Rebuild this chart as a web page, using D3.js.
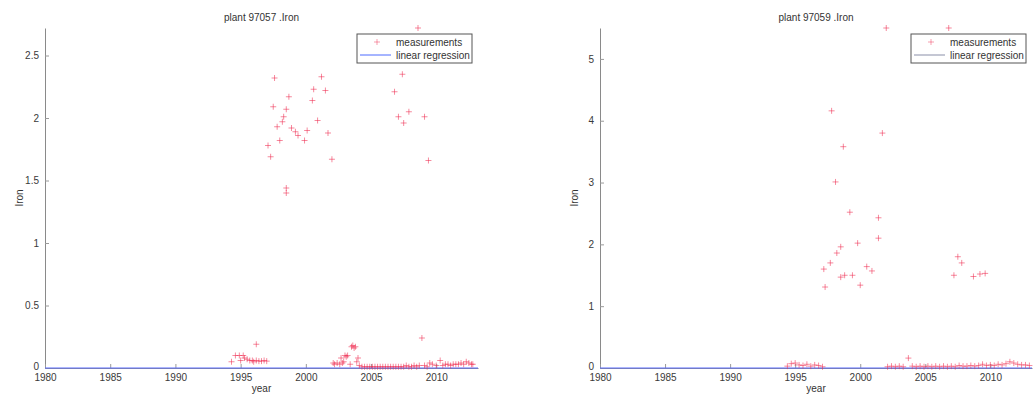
<!DOCTYPE html>
<html>
<head>
<meta charset="utf-8">
<script src="https://cdn.jsdelivr.net/npm/d3@7"></script>
<style>
  body { margin: 0; background: #fff; }
  svg text { font-family: "Liberation Sans", Arial, sans-serif; }
</style>
</head>
<body>
<svg id="chart" width="1035" height="398"></svg>
<script>
// ---------- DATA ----------
const titles = ["plant 97057 .Iron", "plant 97059 .Iron"];
const yTicksA = [0, 0.5, 1, 1.5, 2, 2.5];
const yTicksB = [0, 1, 2, 3, 4, 5];
const xTicks = [1980, 1985, 1990, 1995, 2000, 2005, 2010];
const xDomain = [1980, 2013.2];
const yMaxA = 2.72;
const yMaxB = 5.5;

// plant 97057 measurements (year, iron)
const yearsA = [
  1997.6, 1997.5, 1998.7, 1998.5, 1998.3, 1998.2, 1997.8, 1997.1, 1997.3, 1998.0,
  1998.9, 1999.2, 1999.4, 1999.9, 2000.1, 2000.5, 2000.6, 2001.2, 2001.5, 2000.9,
  2001.7, 2002.0, 1998.5, 1998.5,
  2008.6, 2007.4, 2006.8, 2007.1, 2007.9, 2007.5, 2009.1, 2009.4,
  1994.3, 1994.6, 1994.9, 1995.0, 1995.2, 1995.3, 1995.5, 1995.7, 1995.9, 1996.0,
  1996.2, 1996.2, 1996.4, 1996.6, 1996.8, 1997.0,
  2002.1, 2002.2, 2002.4, 2002.6, 2002.7, 2002.8, 2002.9, 2003.0, 2003.1, 2003.2,
  2003.4, 2003.5, 2003.6, 2003.7, 2003.8, 2003.9, 2004.0, 2004.1, 2004.3, 2004.5,
  2004.7, 2004.9, 2005.1, 2005.3, 2005.5, 2005.7, 2005.9, 2006.1, 2006.3, 2006.5,
  2006.7, 2006.9, 2007.1, 2007.3, 2007.5, 2007.7, 2007.9, 2008.1, 2008.3, 2008.5,
  2008.7, 2008.9, 2009.1, 2009.3, 2009.5, 2009.7, 2010.0, 2010.3, 2010.5, 2010.7,
  2010.9, 2011.1, 2011.3, 2011.5, 2011.7, 2011.9, 2012.1, 2012.3, 2012.5, 2012.7, 2012.8
];
const ironA = [
  2.32, 2.09, 2.17, 2.07, 2.01, 1.97, 1.93, 1.78, 1.69, 1.82,
  1.92, 1.89, 1.86, 1.82, 1.90, 2.14, 2.23, 2.33, 2.22, 1.98,
  1.88, 1.67, 1.44, 1.40,
  2.72, 2.35, 2.21, 2.01, 2.05, 1.96, 2.01, 1.66,
  0.05, 0.10, 0.10, 0.06, 0.10, 0.08, 0.07, 0.06, 0.06, 0.05,
  0.19, 0.06, 0.055, 0.055, 0.06, 0.055,
  0.04, 0.03, 0.04, 0.03, 0.08, 0.04, 0.05, 0.10, 0.09, 0.10,
  0.03, 0.17, 0.18, 0.16, 0.17, 0.05, 0.08, 0.02, 0.01, 0.01,
  0.01, 0.01, 0.01, 0.01, 0.01, 0.01, 0.01, 0.01, 0.01, 0.01,
  0.01, 0.01, 0.01, 0.01, 0.01, 0.02, 0.01, 0.01, 0.02, 0.01,
  0.02, 0.24, 0.02, 0.01, 0.04, 0.03, 0.02, 0.06, 0.02, 0.03,
  0.03, 0.02, 0.03, 0.03, 0.03, 0.04, 0.03, 0.05, 0.04, 0.03, 0.03
];

// plant 97059 measurements (year, iron)
const yearsB = [
  2002.0, 2006.8, 1997.8, 2001.7, 1998.7, 1998.1,
  1999.2, 2001.4, 2001.4, 1999.8, 1998.5, 1998.2, 1997.7, 1997.2, 1997.3, 1998.5,
  1998.8, 1999.4, 2000.0, 2000.5, 2000.9, 2007.2, 2007.5, 2007.8, 2008.7, 2009.2, 2009.6,
  1994.4, 1994.7, 1995.0, 1995.3, 1995.6, 1995.9, 1996.2, 1996.5, 1996.8, 1997.1,
  2002.1, 2002.4, 2002.7, 2003.0, 2003.3, 2003.7, 2004.0, 2004.3, 2004.6, 2004.9,
  2005.2, 2005.5, 2005.8, 2006.1, 2006.4, 2006.7, 2007.0, 2007.3, 2007.6, 2007.9,
  2008.2, 2008.5, 2008.8, 2009.1, 2009.4, 2009.7, 2010.0, 2010.3, 2010.6, 2010.9,
  2011.2, 2011.5, 2011.8, 2012.1, 2012.4, 2012.7, 2013.0
];
const ironB = [
  5.50, 5.50, 4.16, 3.80, 3.58, 3.01,
  2.52, 2.43, 2.10, 2.02, 1.96, 1.86, 1.70, 1.60, 1.31, 1.47,
  1.50, 1.50, 1.34, 1.64, 1.57, 1.50, 1.80, 1.70, 1.48, 1.52, 1.53,
  0.03, 0.07, 0.08, 0.05, 0.04, 0.06, 0.03, 0.05, 0.04, 0.02,
  0.02, 0.03, 0.02, 0.03, 0.02, 0.16, 0.03, 0.02, 0.03, 0.02,
  0.03, 0.02, 0.03, 0.02, 0.03, 0.02, 0.03, 0.02, 0.04, 0.03,
  0.03, 0.04, 0.03, 0.04, 0.06, 0.04, 0.05, 0.04, 0.06, 0.05,
  0.07, 0.10, 0.08, 0.06, 0.05, 0.05, 0.04
];

// linear regression (flat at 0 across the axis)
const regA = [[1980, 0], [2013.2, 0]];
const regB = [[1980, 0], [2013.2, 0]];

// ---------- DRAW ----------
const svg = d3.select("#chart");

const panels = [
  { left: 45, right: 478, title: titles[0], years: yearsA, vals: ironA, yMax: yMaxA, yTicks: yTicksA, reg: regA, legLine: "#4d6bff" },
  { left: 600, right: 1032, title: titles[1], years: yearsB, vals: ironB, yMax: yMaxB, yTicks: yTicksB, reg: regB, legLine: "#8a8fa8" }
];
const plotTop = 28, plotBottom = 368;

panels.forEach(p => {
  const g = svg.append("g");
  const x = d3.scaleLinear().domain(xDomain).range([p.left, p.right]);
  const y = d3.scaleLinear().domain([0, p.yMax]).range([plotBottom, plotTop]);

  // axes
  const fmt = d => String(d);
  const ya = g.append("g").attr("transform", `translate(${p.left},0)`)
    .call(d3.axisLeft(y).tickValues(p.yTicks).tickFormat(fmt).tickSizeInner(-4).tickSizeOuter(0).tickPadding(6));
  const xa = g.append("g").attr("transform", `translate(0,${plotBottom})`)
    .call(d3.axisBottom(x).tickValues(xTicks).tickFormat(fmt).tickSizeInner(-4).tickSizeOuter(0).tickPadding(6));
  [ya, xa].forEach(a => {
    a.select(".domain").attr("stroke", "#8a8a8a");
    a.selectAll(".tick line").attr("stroke", "#9a9a9a");
    a.selectAll("text").attr("fill", "#3a3a3a").attr("font-size", 10);
  });
  // the "0" label sits just above the x tick labels, as in the original
  ya.selectAll(".tick").filter(d => d === 0).select("text").attr("dy", "0.1em");

  // regression line
  g.append("path").datum(p.reg)
    .attr("d", d3.line().x(d => x(d[0])).y(d => y(d[1])))
    .attr("stroke", "#5b6cff").attr("stroke-width", 1).attr("fill", "none");

  // measurements
  const pts = p.years.map((yr, i) => [yr, p.vals[i]]);
  const s = 3;
  g.append("g").selectAll("path").data(pts).join("path")
    .attr("d", d => {
      const cx = x(d[0]), cy = y(d[1]);
      return `M${cx - s},${cy}H${cx + s}M${cx},${cy - s}V${cy + s}`;
    })
    .attr("stroke", "#ee2a4e").attr("stroke-opacity", 0.55).attr("stroke-width", 1).attr("fill", "none");

  // title and labels
  const cx = (p.left + p.right) / 2;
  g.append("text").attr("x", cx).attr("y", 21).attr("text-anchor", "middle")
    .attr("font-size", 10).attr("fill", "#333").text(p.title);
  g.append("text").attr("x", cx).attr("y", 392).attr("text-anchor", "middle")
    .attr("font-size", 10).attr("fill", "#333").text("year");
  g.append("text").attr("transform", `translate(${p.left - 22},${(plotTop + plotBottom) / 2}) rotate(-90)`)
    .attr("text-anchor", "middle").attr("font-size", 10).attr("fill", "#333").text("Iron");

  // legend
  const lx = p.right - 121, ly = plotTop + 6, lw = 115, lh = 29;
  const leg = g.append("g");
  leg.append("rect").attr("x", lx).attr("y", ly).attr("width", lw).attr("height", lh)
    .attr("fill", "#fff").attr("stroke", "#555").attr("stroke-width", 1);
  const mx = lx + 20, my = ly + 8;
  leg.append("path").attr("d", `M${mx - 3},${my}H${mx + 3}M${mx},${my - 3}V${my + 3}`)
    .attr("stroke", "#ee2a4e").attr("stroke-opacity", 0.45);
  leg.append("text").attr("x", lx + 39).attr("y", my + 3.5).attr("font-size", 10).attr("fill", "#333").text("measurements");
  leg.append("line").attr("x1", lx + 3).attr("x2", lx + 34).attr("y1", ly + 21).attr("y2", ly + 21)
    .attr("stroke", p.legLine);
  leg.append("text").attr("x", lx + 39).attr("y", ly + 24.5).attr("font-size", 10).attr("fill", "#333").text("linear regression");
});
</script>
</body>
</html>
